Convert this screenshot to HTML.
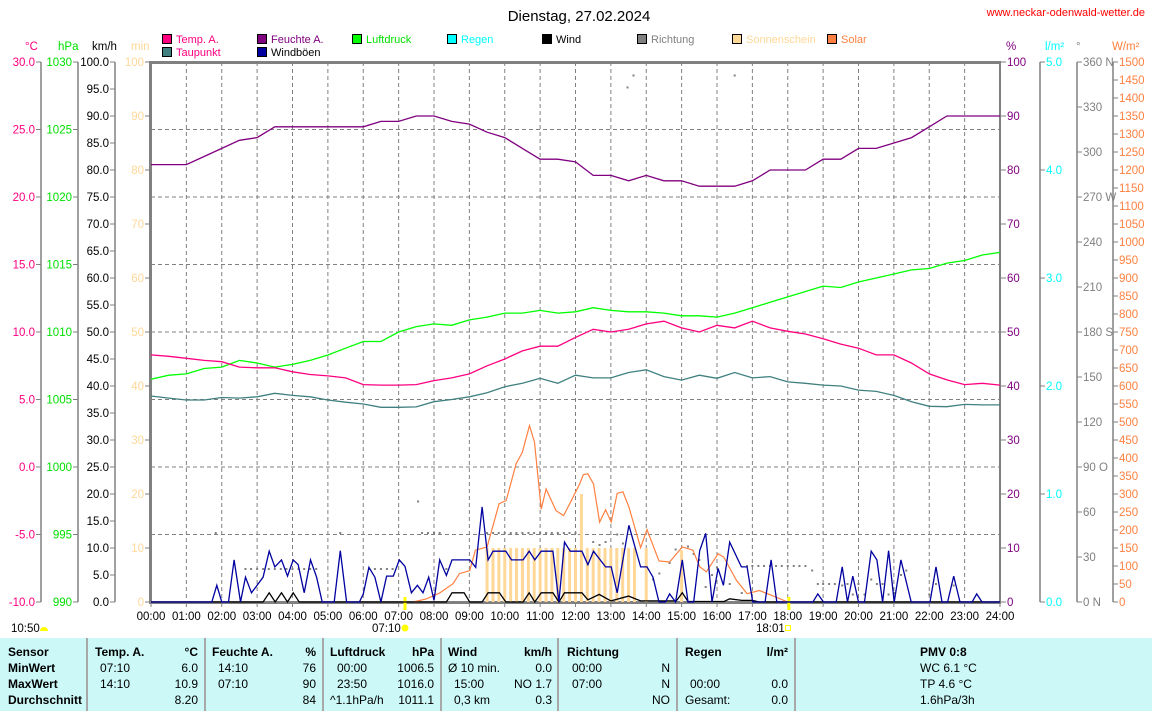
<!DOCTYPE html>
<html><head><meta charset="utf-8"><style>
body{margin:0;background:#fff;width:1152px;height:711px;overflow:hidden;position:relative;font-family:"Liberation Sans",sans-serif}
svg{position:absolute;left:0;top:0}
svg text{font-family:"Liberation Sans",sans-serif;font-size:11.5px}
#tbl{position:absolute;left:0;top:638px;width:1152px;height:73px;background:#CCF8F8;font-size:12px}
#tbl div{position:absolute;white-space:nowrap}
.b{font-weight:bold}
.sep{width:2px;top:0;height:73px;background:#A8A8A8}
.r{text-align:right}
</style></head><body>
<svg id="chart" width="1152" height="711">
<text x="579" y="21" text-anchor="middle" style="font-size:15px">Dienstag, 27.02.2024</text>
<text x="1145" y="16" text-anchor="end" fill="#FF0000" style="font-size:11px">www.neckar-odenwald-wetter.de</text>
<g id="legend"></g>
<g id="grid"></g>
<g id="axes"></g>
<g id="series"></g>
</svg>
<div id="tbl">
<div class="sep" style="left:86px"></div><div class="sep" style="left:204px"></div><div class="sep" style="left:322px"></div><div class="sep" style="left:440px"></div><div class="sep" style="left:557px"></div><div class="sep" style="left:676px"></div><div class="sep" style="left:794px"></div>
<div class="b" style="left:8px;top:7px">Sensor</div><div class="b" style="left:8px;top:23px">MinWert</div><div class="b" style="left:8px;top:39px">MaxWert</div><div class="b" style="left:8px;top:55px">Durchschnitt</div>
<div class="b" style="left:95px;top:7px">Temp. A.</div><div class="b r" style="right:954px;top:7px">°C</div>
<div style="left:100px;top:23px">07:10</div><div class="r" style="right:954px;top:23px">6.0</div>
<div style="left:100px;top:39px">14:10</div><div class="r" style="right:954px;top:39px">10.9</div>
<div class="r" style="right:954px;top:55px">8.20</div>
<div class="b" style="left:212px;top:7px">Feuchte A.</div><div class="b r" style="right:836px;top:7px">%</div>
<div style="left:218px;top:23px">14:10</div><div class="r" style="right:836px;top:23px">76</div>
<div style="left:218px;top:39px">07:10</div><div class="r" style="right:836px;top:39px">90</div>
<div class="r" style="right:836px;top:55px">84</div>
<div class="b" style="left:330px;top:7px">Luftdruck</div><div class="b r" style="right:718px;top:7px">hPa</div>
<div style="left:337px;top:23px">00:00</div><div class="r" style="right:718px;top:23px">1006.5</div>
<div style="left:337px;top:39px">23:50</div><div class="r" style="right:718px;top:39px">1016.0</div>
<div style="left:330px;top:55px">^1.1hPa/h</div><div class="r" style="right:718px;top:55px">1011.1</div>
<div class="b" style="left:448px;top:7px">Wind</div><div class="b r" style="right:600px;top:7px">km/h</div>
<div style="left:448px;top:23px">Ø 10 min.</div><div class="r" style="right:600px;top:23px">0.0</div>
<div style="left:454px;top:39px">15:00</div><div class="r" style="right:600px;top:39px">NO 1.7</div>
<div style="left:454px;top:55px">0,3 km</div><div class="r" style="right:600px;top:55px">0.3</div>
<div class="b" style="left:567px;top:7px">Richtung</div>
<div style="left:572px;top:23px">00:00</div><div class="r" style="right:482px;top:23px">N</div>
<div style="left:572px;top:39px">07:00</div><div class="r" style="right:482px;top:39px">N</div>
<div class="r" style="right:482px;top:55px">NO</div>
<div class="b" style="left:685px;top:7px">Regen</div><div class="b r" style="right:364px;top:7px">l/m²</div>
<div style="left:690px;top:39px">00:00</div><div class="r" style="right:364px;top:39px">0.0</div>
<div style="left:685px;top:55px">Gesamt:</div><div class="r" style="right:364px;top:55px">0.0</div>
<div class="b" style="left:920px;top:7px">PMV 0:8</div>
<div style="left:920px;top:23px">WC 6.1 °C</div>
<div style="left:920px;top:39px">TP 4.6 °C</div>
<div style="left:920px;top:55px">1.6hPa/3h</div>
</div>
<script>
// half-hourly series 00:00..24:00
const tempValues=[8.3,8.2,8.05,7.9,7.8,7.4,7.35,7.35,7.05,6.85,6.75,6.6,6.1,6.07,6.07,6.1,6.4,6.6,6.9,7.5,8.0,8.6,8.95,8.95,9.6,10.2,10.0,10.2,10.6,10.8,10.3,10.0,10.5,10.3,10.8,10.3,10.05,9.85,9.5,9.1,8.8,8.3,8.3,7.7,6.9,6.45,6.1,6.2,6.07];
const dewValues=[5.26,5.1,4.96,4.96,5.15,5.1,5.2,5.46,5.3,5.2,4.96,4.8,4.67,4.42,4.42,4.45,4.84,5.0,5.2,5.5,5.95,6.2,6.57,6.2,6.8,6.6,6.6,7.0,7.2,6.7,6.44,6.8,6.57,7.0,6.6,6.7,6.3,6.2,6.07,6.0,5.7,5.6,5.3,4.84,4.5,4.47,4.64,4.6,4.6];
const humValues=[81,81,81,82.5,84,85.5,86,88,88,88,88,88,88,89,89,90,90,89,88.5,87,86,84,82,82,81.5,79,79,78,79,78,78,77,77,77,78,80,80,80,82,82,84,84,85,86,88,90,90,90,90];
const pressValues=[1006.5,1006.8,1006.9,1007.3,1007.4,1007.9,1007.7,1007.4,1007.6,1007.9,1008.3,1008.8,1009.3,1009.3,1010.0,1010.4,1010.6,1010.5,1010.9,1011.1,1011.4,1011.4,1011.6,1011.4,1011.5,1011.8,1011.6,1011.5,1011.5,1011.4,1011.2,1011.2,1011.1,1011.4,1011.8,1012.2,1012.6,1013.0,1013.4,1013.3,1013.7,1014.0,1014.3,1014.6,1014.7,1015.1,1015.3,1015.7,1015.9];
const gustTimes=[0,1.72,1.86,2.0,2.19,2.35,2.53,2.67,2.84,3.17,3.34,3.5,3.69,3.86,4.02,4.16,4.33,4.51,4.68,4.84,5.18,5.35,5.53,5.89,6.0,6.16,6.33,6.5,6.66,6.85,7.02,7.18,7.36,7.53,7.69,7.85,8.0,8.16,8.35,8.51,9.01,9.18,9.36,9.53,9.67,10.03,10.19,10.52,10.69,10.85,11.03,11.36,11.53,11.69,11.85,12.18,12.35,12.51,12.85,13.01,13.18,13.51,13.84,14.02,14.19,14.36,14.54,14.66,14.83,15.02,15.18,15.34,15.51,15.68,15.86,16.03,16.18,16.36,16.69,16.85,17.01,17.36,17.53,17.69,18.71,18.85,19.01,19.37,19.54,19.69,19.84,20.0,20.17,20.36,20.52,20.68,20.85,21.01,21.2,21.49,22.02,22.19,22.36,22.52,22.69,22.87,23.21,23.34,23.49,24];
const gustValues=[0,0,3.1,0,0,7.8,0,4.6,1.7,4.6,9.4,6.5,7.8,4.8,7.8,6.9,1.7,7.8,4.6,0,0,9.5,0,0,1.5,6.4,4.6,0,4.8,4.8,7.8,6.6,1.7,3.1,1.7,4.6,0.3,7.8,4.9,7.8,7.8,6.4,17.6,7.8,9.4,9.4,7.8,7.8,9.4,7.8,9.4,9.4,0,11.1,9.4,9.4,6.9,9.4,6.5,6.5,1.7,14.2,6.5,6.5,4.6,0,0,1.5,0,7.8,0,0,9.5,12.7,0,6.2,3.1,11.1,6.5,6.5,0,0,7.8,0,0,1.5,0,0,6.5,0,4.8,0,0,9.4,7.8,0,9.5,0,7.8,0,0,6.5,0,0,4.8,0,0,1.5,0,0];
const windTimes=[0,3.17,3.34,3.51,3.69,3.86,4.02,4.19,8.35,8.51,8.85,9.01,9.36,9.53,9.85,10.03,10.52,10.69,10.85,11.03,11.36,11.53,11.69,12.18,12.35,12.67,13.0,13.5,13.84,14.85,15.02,15.18,16.2,16.36,16.7,17.0,17.2,24];
const windValues=[0,0,1.7,0,1.7,0,1.7,0,0,1.7,1.7,0,0,1.7,1.7,0,0,1.7,0,1.7,1.7,0,1.7,1.7,0.4,1.4,0.2,1.1,0.2,0.2,1.7,0.1,0.1,0.6,0.3,0.3,0,0];
const solarTimes=[7.41,7.79,8.16,8.54,8.72,9.01,9.17,9.5,9.84,10.04,10.32,10.5,10.7,10.84,11.03,11.17,11.45,11.66,11.84,12.12,12.22,12.35,12.51,12.68,12.85,13.01,13.18,13.34,13.51,13.84,14.02,14.36,14.66,15.02,15.32,15.51,15.7,16.03,16.19,16.55,16.85,17.2,17.53,18.0];
const solarValues=[0,9,25,51,79,87,144,153,273,282,384,416,490,444,258,314,254,240,273,328,354,356,328,222,256,222,302,306,264,151,201,114,111,153,144,98,84,134,125,60,23,32,19,0];
const sunTimes=[9.5,9.667,9.833,10,10.167,10.333,10.5,10.667,10.833,11,11.167,11.333,11.5,11.667,11.833,12,12.167,12.333,12.5,12.667,12.833,13,13.167,13.333,13.5,13.667,14,15];
const sunValues=[10,10,10,10,10,10,10,10,10,10,10,10,10,10,10,10,20,10,10,10,10,10,10,10,10,10,10,9.6];
const dirTimes=[1.83,2.67,2.83,3.0,3.17,3.33,3.5,3.67,3.83,4.0,4.17,4.33,4.5,4.67,5.35,6.17,6.33,6.5,6.67,6.83,7.55,7.66,7.83,8.0,8.16,8.35,9.5,9.67,9.83,10.0,10.17,10.33,10.5,10.67,10.83,11.0,11.17,11.33,11.5,11.67,11.83,12.0,12.5,12.68,12.85,13.18,13.34,13.47,13.64,14.19,14.37,14.66,14.83,15.18,15.34,15.5,15.68,15.86,16.0,16.36,16.5,16.7,16.85,17.0,17.17,17.33,17.5,17.67,17.83,18.0,18.17,18.33,18.5,18.69,18.85,19.0,19.17,19.33,19.54,19.69,19.84,20.0,20.17,20.36,20.52,20.68,20.85,21.01,21.2,21.35,22.0,22.19,22.69];
const dirValues=[46,22,22,22,22,22,22,22,22,22,22,22,22,22,46,22,22,22,22,22,67,46,46,46,46,22,46,46,46,46,46,46,46,46,46,46,46,46,46,46,46,46,40,38,40,45,39,343,351,15,19,26,35,37,32,28,10,18,23,12,351,6,24,24,24,24,24,24,24,24,24,24,24,21,12,12,12,12,11,12,5,12,5,15,12,12,5,6,18,21,5,12,11];
const tempTicks=[30,25,20,15,10,5,0,-5,-10];
const pressTicks=[1030,1025,1020,1015,1010,1005,1000,995,990];
const kmhTicks=[100,95,90,85,80,75,70,65,60,55,50,45,40,35,30,25,20,15,10,5,0];
const minTicks=[100,90,80,70,60,50,40,30,20,10,0];
const pctTicks=[100,90,80,70,60,50,40,30,20,10,0];
const rainTicks=[5,4,3,2,1,0];
const degTicks=[360,330,300,270,240,210,180,150,120,90,60,30,0];
const degNames={360:' N',270:' W',180:' S',90:' O',0:' N'};
const solTicks=[1500,1450,1400,1350,1300,1250,1200,1150,1100,1050,1000,950,900,850,800,750,700,650,600,550,500,450,400,350,300,250,200,150,100,50,0];
const hourLabels=['00:00','01:00','02:00','03:00','04:00','05:00','06:00','07:00','08:00','09:00','10:00','11:00','12:00','13:00','14:00','15:00','16:00','17:00','18:00','19:00','20:00','21:00','22:00','23:00','24:00'];

const NS='http://www.w3.org/2000/svg';
const X0=151,X1=1000,YT=62,YB=602;
const X=h=>X0+h*(X1-X0)/24;
const yT=t=>YB-(t+10)*13.5, yP=p=>YB-(p-990)*13.5, yK=v=>YB-v*5.4, yM=m=>YB-m*5.4, yPct=h=>YB-h*5.4, yR=r=>YB-r*108, yD=d=>YB-d*1.5, yS=w=>YB-w*0.36;
function mk(tag,attrs,parent){const e=document.createElementNS(NS,tag);for(const k in attrs)e.setAttribute(k,attrs[k]);parent.appendChild(e);return e;}
function txt(x,y,s,fill,anchor,parent){const e=mk('text',{x:x,y:y,fill:fill,'text-anchor':anchor||'start'},parent);e.textContent=s;return e;}
const G=document.getElementById('grid'),A=document.getElementById('axes'),S=document.getElementById('series'),L=document.getElementById('legend');

// legend
const legItems=[['Temp. A.','#FF0080','#FF0080',162,0],['Feuchte A.','#800080','#800080',257,0],['Luftdruck','#00FF00','#00E000',352,0],['Regen','#00FFFF','#00FFFF',447,0],['Wind','#000000','#000',542,0],['Richtung','#808080','#808080',637,0],['Sonnenschein','#FFD898','#FFD898',732,0],['Solar','#FF8040','#FF8040',827,0],['Taupunkt','#408080','#FF0080',162,1],['Windböen','#0000A0','#000',257,1]];
legItems.forEach(it=>{
  const g=mk('g',{},L);
  
  
  mk('rect',{x:it[3]+0.5,y:34.5+it[4]*13,width:9,height:9,fill:it[1],stroke:'#000'},g);
  const t=txt(it[3]+14,43+it[4]*13,it[0],it[2],'start',g);
  t.setAttribute('style','font-size:11px');
});

// grid
for(let h=1;h<24;h++){const l=mk('line',{x1:X(h),x2:X(h),y1:YT,y2:YB,stroke:'#808080','stroke-dasharray':'4,3'},G);}
[25,20,15,10,5,0,-5].forEach(t=>{const l=mk('line',{x1:X0,x2:X1,y1:yT(t),y2:yT(t),stroke:'#808080','stroke-dasharray':'4,3'},G);});

// axes
function vaxis(x,ticks,fy,fmt,color,side,name){
  const g=mk('g',{},A);
  
  
  mk('line',{x1:x,x2:x,y1:YT,y2:YB,stroke:'#808080','stroke-width':1.5},g);
  ticks.forEach(v=>{const y=fy(v);
    if(side<0){mk('line',{x1:x-5,x2:x,y1:y,y2:y,stroke:'#808080'},g);txt(x-6,y+4,fmt(v),color,'end',g);}
    else{mk('line',{x1:x,x2:x+5,y1:y,y2:y,stroke:'#808080'},g);txt(x+6,y+4,fmt(v),color,'start',g);}
  });
}
vaxis(41,tempTicks,yT,v=>v.toFixed(1),'#FF0080',-1,'temp-axis');
vaxis(78,pressTicks,yP,v=>String(v),'#00E000',-1,'pressure-axis');
vaxis(115,kmhTicks,yK,v=>v.toFixed(1),'#000',-1,'wind-axis');
vaxis(1040,rainTicks,yR,v=>v.toFixed(1),'#00FFFF',1,'rain-axis');
vaxis(1077,degTicks,yD,v=>v+(degNames[v]||''),'#808080',1,'direction-axis');
vaxis(1113,solTicks,yS,v=>String(v),'#FF8040',1,'solar-axis');
minTicks.forEach(v=>{mk('line',{x1:X0-6,x2:X0,y1:yM(v),y2:yM(v),stroke:'#808080'},A);txt(X0-7,yM(v)+4,String(v),'#FFD898','end',A);});
pctTicks.forEach(v=>{mk('line',{x1:X1,x2:X1+6,y1:yPct(v),y2:yPct(v),stroke:'#808080'},A);txt(X1+7,yPct(v)+4,String(v),'#800080','start',A);});
mk('rect',{x:X0-2,y:YT-1,width:3,height:YB-YT+3,fill:'#808080'},A);
mk('rect',{x:X0-2,y:YT-1,width:X1-X0+3,height:3,fill:'#808080'},A);
mk('rect',{x:X0-2,y:YB-1,width:X1-X0+3,height:3,fill:'#808080'},A);
mk('rect',{x:X1-1,y:YT-1,width:2,height:YB-YT+3,fill:'#808080'},A);
[['°C',25,'#FF0080'],['hPa',58,'#00E000'],['km/h',92,'#000'],['min',131,'#FFD898'],['%',1006,'#800080'],['l/m²',1045,'#00FFFF'],['°',1076,'#808080'],['W/m²',1112,'#FF8040']].forEach(u=>{const t=txt(u[1],50,u[0],u[2],'start',A);});
hourLabels.forEach((s,i)=>{mk('line',{x1:X(i),x2:X(i),y1:YB,y2:YB+5,stroke:'#808080'},A);const t=txt(X(i),620,s,'#000','middle',A);});
mk('rect',{x:X(7+10/60)-1,y:597,width:3,height:13,fill:'#FFFF00'},A);
mk('rect',{x:X(18+1/60)-1,y:597,width:3,height:13,fill:'#FFFF00'},A);
txt(372,632,'07:10','#000','start',A);mk('circle',{cx:405,cy:628,r:3.5,fill:'#FFFF00'},A);
txt(756,632,'18:01','#000','start',A);mk('rect',{x:785.5,y:625.5,width:5,height:5,fill:'none',stroke:'#FFFF00'},A);
txt(11,632,'10:50','#000','start',A);mk('path',{d:'M40,631 A4,4 0 0 1 48,631 Z',fill:'#FFFF00'},A);

// series
function line(times,vals,fy,color,name,w){
  const pts=vals.map((v,i)=>X(times?times[i]:i*24/(vals.length-1)).toFixed(1)+','+fy(v).toFixed(1)).join(' ');
  const p=mk('polyline',{points:pts,fill:'none',stroke:color,'stroke-width':w||1.2},S);
  
  
}
sunValues.forEach((v,i)=>{
  const r=mk('rect',{x:X(sunTimes[i])-1.5,y:yM(v),width:3,height:YB-yM(v),fill:'#FFD898'},S);
  
  
});
dirValues.forEach((v,i)=>{
  const r=mk('rect',{x:X(dirTimes[i])-1,y:yD(v)-1,width:2,height:2,fill:'#808080'},S);
  
  
});
line(solarTimes,solarValues,yS,'#FF8040','solar-line',1.2);
line(windTimes,windValues,yK,'#000','wind-line',1.3);
line(gustTimes,gustValues,yK,'#0000A0','gust-line',1.3);
line(null,dewValues,yT,'#408080','dewpoint-line',1.3);
line(null,pressValues,yP,'#00FF00','pressure-line',1.3);
line(null,tempValues,yT,'#FF0080','temperature-line',1.3);
line(null,humValues,yPct,'#800080','humidity-line',1.3);
</script>
</body></html>
